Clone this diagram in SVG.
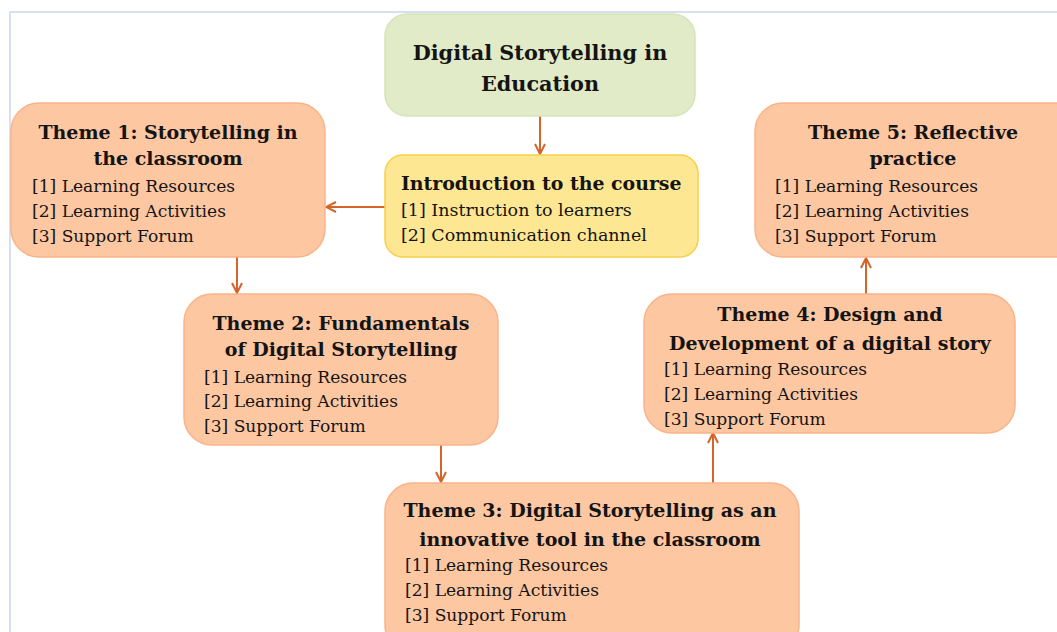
<svg xmlns="http://www.w3.org/2000/svg" width="1057" height="632" viewBox="0 0 1057 632">
<style>
.frame{fill:#fff;stroke:#c9d6ec;stroke-width:1.5}
.theme{fill:#fdc7a2;stroke:#f9b48a;stroke-width:1.5}
.root{fill:#e1ebc8;stroke:#d6e3bb;stroke-width:1.5}
.intro{fill:#fee793;stroke:#f8cf4a;stroke-width:1.5}
text{font-family:"DejaVu Serif","Liberation Serif",serif;fill:#141414}
.t{font-weight:bold;font-size:19px;text-anchor:middle}
.h{font-weight:bold;font-size:20.8px;text-anchor:middle}
.i{font-size:17.1px}
.j{font-size:17.5px}
.b{font-weight:bold;font-size:18.9px}
.c{fill:none;stroke:#d5642a;stroke-width:2}
</style>
<defs>
<marker id="ah" viewBox="0 0 12 12" refX="11" refY="6" markerWidth="12" markerHeight="12" markerUnits="userSpaceOnUse" orient="auto">
<path d="M1,1 L11,6 L1,11" fill="none" stroke="#d5642a" stroke-width="2"/>
</marker>
</defs>
<rect class="frame" x="10" y="12" width="1070" height="640"/>
<g id="connectors">
<line class="c" x1="540" y1="116" x2="540" y2="154" marker-end="url(#ah)"/>
<line class="c" x1="385" y1="207" x2="326" y2="207" marker-end="url(#ah)"/>
<line class="c" x1="237" y1="257" x2="237" y2="293" marker-end="url(#ah)"/>
<line class="c" x1="441" y1="445" x2="441" y2="482" marker-end="url(#ah)"/>
<line class="c" x1="713" y1="483" x2="713" y2="433" marker-end="url(#ah)"/>
<line class="c" x1="866" y1="294" x2="866" y2="258" marker-end="url(#ah)"/>
</g>
<g id="root">
<rect class="root" x="385" y="14" width="310" height="102" rx="22"/>
<text class="h" x="540" y="60">Digital Storytelling in</text>
<text class="h" x="540" y="91">Education</text>
</g>
<g id="intro">
<rect class="intro" x="385" y="155" width="313" height="102" rx="18"/>
<text class="b" x="401" y="190">Introduction to the course</text>
<text class="j" x="401" y="216">[1] Instruction to learners</text>
<text class="j" x="401" y="241">[2] Communication channel</text>
</g>
<g id="theme1">
<rect class="theme" x="11" y="103" width="314" height="154" rx="28"/>
<text class="t" x="168" y="139">Theme 1: Storytelling in</text>
<text class="t" x="168" y="165">the classroom</text>
<text class="i" x="32" y="192">[1] Learning Resources</text>
<text class="i" x="32" y="217">[2] Learning Activities</text>
<text class="i" x="32" y="242">[3] Support Forum</text>
</g>
<g id="theme2">
<rect class="theme" x="184" y="294" width="314" height="151" rx="28"/>
<text class="t" x="341" y="330">Theme 2: Fundamentals</text>
<text class="t" x="341" y="356">of Digital Storytelling</text>
<text class="i" x="204" y="383">[1] Learning Resources</text>
<text class="i" x="204" y="407">[2] Learning Activities</text>
<text class="i" x="204" y="432">[3] Support Forum</text>
</g>
<g id="theme3">
<rect class="theme" x="385" y="483" width="414" height="170" rx="28"/>
<text class="t" x="590" y="517">Theme 3: Digital Storytelling as an</text>
<text class="t" x="590" y="546">innovative tool in the classroom</text>
<text class="i" x="405" y="571">[1] Learning Resources</text>
<text class="i" x="405" y="596">[2] Learning Activities</text>
<text class="i" x="405" y="621">[3] Support Forum</text>
</g>
<g id="theme4">
<rect class="theme" x="644" y="294" width="371" height="139" rx="28"/>
<text class="t" x="830" y="321">Theme 4: Design and</text>
<text class="t" x="830" y="350">Development of a digital story</text>
<text class="i" x="664" y="375">[1] Learning Resources</text>
<text class="i" x="664" y="400">[2] Learning Activities</text>
<text class="i" x="664" y="425">[3] Support Forum</text>
</g>
<g id="theme5">
<rect class="theme" x="755" y="103" width="330" height="154" rx="28"/>
<text class="t" x="913" y="139">Theme 5: Reflective</text>
<text class="t" x="913" y="165">practice</text>
<text class="i" x="775" y="192">[1] Learning Resources</text>
<text class="i" x="775" y="217">[2] Learning Activities</text>
<text class="i" x="775" y="242">[3] Support Forum</text>
</g>
</svg>
